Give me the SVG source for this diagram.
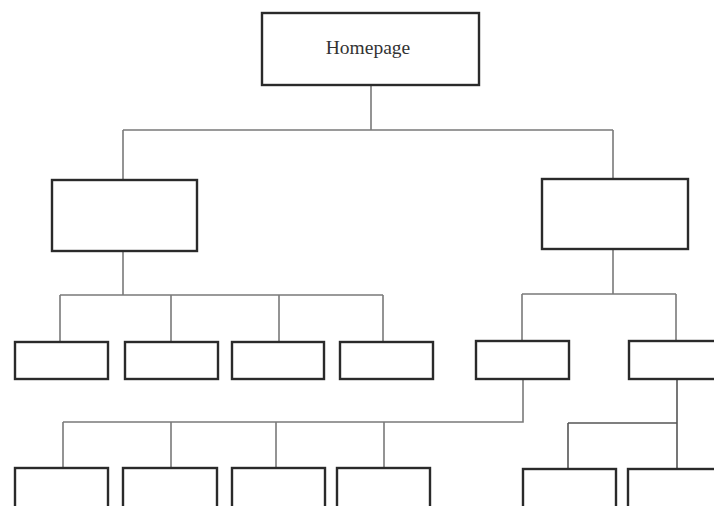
<svg xmlns="http://www.w3.org/2000/svg" width="714" height="506" viewBox="0 0 714 506">
<style>
.box{fill:#fff;stroke:#2a2a2a;stroke-width:2.4}
.conn{fill:none;stroke:#7a7a7a;stroke-width:1.6}
.lbl{font-family:"Liberation Serif","Times New Roman",serif;font-size:19.5px;fill:#333;text-anchor:middle}
</style>
<rect width="714" height="506" fill="#fff"/>
<g id="connectors">
<path class="conn" d="M371 85V130M123 130H613M123 130V180M613 130V179"/>
<path class="conn" d="M123 251V295M60 295H383M60 295V342M171 295V342M279 295V342M383 295V342"/>
<path class="conn" d="M613 249V294M522 294H676M522 294V341M676 294V341"/>
<path class="conn" d="M523 379V422H63M63 422V468M171 422V468M276 422V468M384 422V468"/>
<path class="conn" d="M677 379V468M568 423H677M568 423V469" style="stroke:#555"/>
</g>
<g id="homepage"><rect class="box" x="262" y="13" width="217" height="72"/><text class="lbl" x="368" y="54">Homepage</text></g>
<g id="n1"><rect class="box" x="52" y="180" width="145" height="71"/></g>
<g id="n2"><rect class="box" x="542" y="179" width="146" height="70"/></g>
<g id="n1a"><rect class="box" x="15" y="342" width="93" height="37"/></g>
<g id="n1b"><rect class="box" x="125" y="342" width="93" height="37"/></g>
<g id="n1c"><rect class="box" x="232" y="342" width="92" height="37"/></g>
<g id="n1d"><rect class="box" x="340" y="342" width="93" height="37"/></g>
<g id="n2a"><rect class="box" x="476" y="341" width="93" height="38"/></g>
<g id="n2b"><rect class="box" x="629" y="341" width="95" height="38"/></g>
<g id="n3a"><rect class="box" x="15" y="468" width="93" height="42"/></g>
<g id="n3b"><rect class="box" x="123" y="468" width="94" height="42"/></g>
<g id="n3c"><rect class="box" x="232" y="468" width="93" height="42"/></g>
<g id="n3d"><rect class="box" x="337" y="468" width="93" height="42"/></g>
<g id="n4a"><rect class="box" x="523" y="469" width="93" height="42"/></g>
<g id="n4b"><rect class="box" x="628" y="469" width="95" height="42"/></g>
</svg>
